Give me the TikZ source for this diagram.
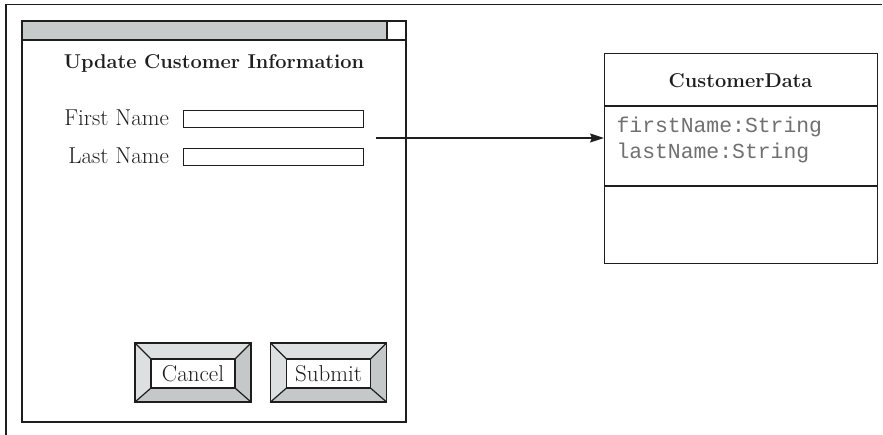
\documentclass[tikz,border=0pt]{standalone}
\usepackage{fontspec}
\setmonofont{Liberation Mono}
\usetikzlibrary{arrows.meta}
\definecolor{barGray}{HTML}{C6CACA}
\definecolor{faceLight}{HTML}{DDE0E0}
\definecolor{faceDark}{HTML}{C4C8C8}
\definecolor{attrGray}{HTML}{707070}
\definecolor{inkGray}{HTML}{1E1E1E}
\newcommand\uibutton[3]{%
  \begin{scope}[shift={(#2,0)}]
    \fill[faceLight] (-58,343) -- (58,343) -- (42,359) -- (-42,359) -- cycle;
    \fill[faceLight] (-58,343) -- (-42,359) -- (-42,388) -- (-58,402) -- cycle;
    \fill[faceDark] (58,343) -- (58,402) -- (42,388) -- (42,359) -- cycle;
    \fill[faceDark] (-58,402) -- (58,402) -- (42,388) -- (-42,388) -- cycle;
    \draw (-58,343) -- (-42,359) (58,343) -- (42,359) (-58,402) -- (-42,388) (58,402) -- (42,388);
    \draw (-58,343) rectangle (58,402);
    \node[btninner] (#1) at (0,373.5) {#3};
  \end{scope}}
\begin{document}
\begin{tikzpicture}[x=1pt,y=-1pt,line width=1.2pt,draw=inkGray,text=inkGray,
  lbl/.style={font=\fontsize{23}{26}\selectfont},
  bold/.style={font=\bfseries\fontsize{20}{24}\selectfont},
  field/.style={draw,minimum width=180pt,minimum height=17pt,inner sep=0pt,anchor=west},
  attr/.style={anchor=west,text=attrGray,font=\ttfamily\fontsize{21.4}{24}\selectfont,inner sep=0pt},
  btninner/.style={draw,fill=white,minimum width=84pt,minimum height=29pt,inner sep=0pt,font=\fontsize{23}{26}\selectfont},
  arr/.style={-{Stealth[length=14pt,width=9pt,inset=2pt]}}]
\useasboundingbox (0,0) rectangle (883,435);
% outer frame
\draw (6,435) -- (6,4.5) -- (882,4.5);
% window
\draw (22,21) rectangle (406,422);
\draw[fill=barGray] (22,21) rectangle (387,40);
\draw (387,21) rectangle (406,40);
\node[bold] (title) at (214,63) {Update Customer Information};
\node[lbl,anchor=east] (fnl) at (173,118) {First Name};
\node[field] (fnf) at (183,119) {};
\node[lbl,anchor=east] (lnl) at (173,156) {Last Name};
\node[field] (lnf) at (183,157) {};
\uibutton{cancel}{193}{Cancel}
\uibutton{submit}{328.5}{Submit}
% class box
\node[draw,minimum width=273pt,minimum height=210pt,inner sep=0pt,anchor=north west] (cls) at (604,53) {};
\draw (cls.west |- 0,106) -- (cls.east |- 0,106);
\draw (cls.west |- 0,186) -- (cls.east |- 0,186);
\node[bold] (clsname) at (740.5,81) {CustomerData};
\node[attr] (a1) at (616,127) {firstName:String};
\node[attr] (a2) at (616,153) {lastName:String};
% connector
\coordinate (src) at (376,138);
\draw[arr] (src) -- (src -| cls.west);
\end{tikzpicture}
\end{document}
